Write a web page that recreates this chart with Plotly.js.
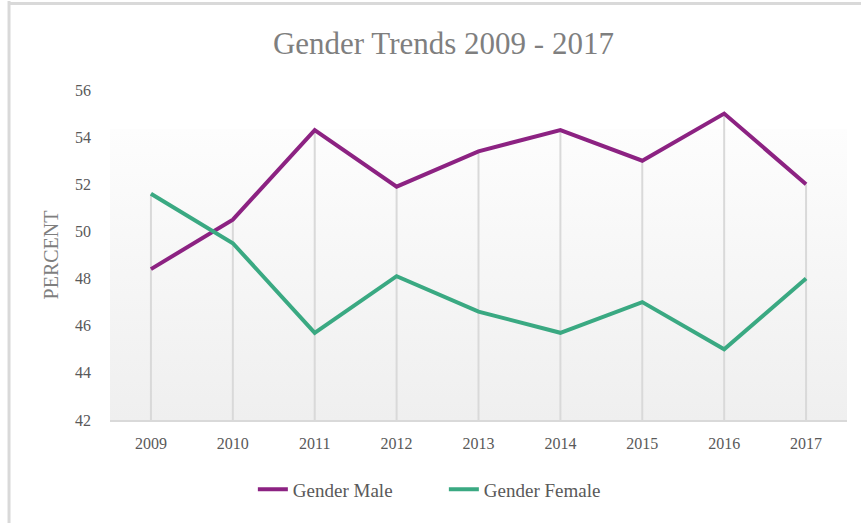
<!DOCTYPE html>
<html>
<head>
<meta charset="utf-8">
<script src="https://cdn.plot.ly/plotly-3.0.1.min.js"></script>
<style>html,body{margin:0;padding:0;background:#fff;}#chart{width:861px;height:523px;}</style>
</head>
<body>
<div id="chart"></div>
<script>
const years = ['2009','2010','2011','2012','2013','2014','2015','2016','2017'];
const male = [48.4, 50.5, 54.3, 51.9, 53.4, 54.3, 53.0, 55.0, 52.0];
const female = [51.6, 49.5, 45.7, 48.1, 46.6, 45.7, 47.0, 45.0, 48.0];
const yMin = 42, yMax = 56;
const yTicks = [42, 44, 46, 48, 50, 52, 54, 56];

// drop lines from the highest point of each year down to the axis
const dropX = [], dropY = [];
years.forEach((yr, i) => {
  dropX.push(yr, yr, null);
  dropY.push(yMin, Math.max(male[i], female[i]), null);
});

const serif = '"Liberation Serif", "DejaVu Serif", serif';

const gradSvg = '<svg xmlns="http://www.w3.org/2000/svg" width="10" height="100" preserveAspectRatio="none">' +
  '<defs><linearGradient id="g" x1="0" y1="0" x2="0" y2="1">' +
  '<stop offset="0" stop-color="#fdfdfd"/><stop offset="1" stop-color="#efefef"/></linearGradient></defs>' +
  '<rect width="10" height="100" fill="url(#g)"/></svg>';
const gradUri = 'data:image/svg+xml;base64,' + btoa(gradSvg);

const traces = [
  {x: dropX, y: dropY, mode: 'lines', line: {color: '#d9d9d9', width: 2}, showlegend: false, hoverinfo: 'skip'},
  {x: years, y: male, name: 'Gender Male', mode: 'lines', line: {color: '#8c2282', width: 4}},
  {x: years, y: female, name: 'Gender Female', mode: 'lines', line: {color: '#3aa982', width: 4}}
];

const layout = {
  width: 861, height: 523,
  margin: {l: 110, r: 14, t: 90, b: 103},
  paper_bgcolor: '#ffffff',
  plot_bgcolor: 'rgba(0,0,0,0)',
  title: {text: 'Gender Trends 2009 - 2017', x: 0.515, xanchor: 'center', y: 0.918, yanchor: 'middle',
          font: {family: serif, size: 31, color: '#7f7f7f'}},
  xaxis: {type: 'category', range: [-0.5, 8.5], showgrid: false, zeroline: false,
          showline: true, linecolor: '#d9d9d9', linewidth: 2, ticks: '',
          tickfont: {family: serif, size: 16, color: '#595959'}, ticklabelstandoff: 8, fixedrange: true},
  yaxis: {range: [yMin, yMax], tickvals: yTicks, showgrid: false, zeroline: false, showline: false, ticks: '',
          tickfont: {family: serif, size: 16, color: '#595959'}, ticklabelstandoff: 18,
          title: {text: 'PERCENT', font: {family: serif, size: 20, color: '#7f7f7f'}, standoff: 11}, fixedrange: true},
  legend: {orientation: 'h', x: 0.453, xanchor: 'center', y: -0.21, yanchor: 'middle',
           font: {family: serif, size: 19, color: '#595959'}, entrywidth: 146, entrywidthmode: 'pixels',
           traceorder: 'normal'},
  images: [{source: gradUri, xref: 'paper', yref: 'y', x: 0, y: 54.35, sizex: 1, sizey: 54.35 - yMin,
            xanchor: 'left', yanchor: 'top', sizing: 'stretch', layer: 'below'}],
  shapes: [
    {type: 'line', xref: 'paper', yref: 'paper', x0: -0.137, x1: -0.137, y0: 1.27, y1: -0.35, line: {color: '#d9d9d9', width: 3}},
    {type: 'line', xref: 'paper', yref: 'paper', x0: -0.137, x1: 1.03, y0: 1.262, y1: 1.262, line: {color: '#d9d9d9', width: 3}}
  ],
  showlegend: true
};

Plotly.newPlot('chart', traces, layout, {displayModeBar: false, staticPlot: true});
</script>
</body>
</html>
